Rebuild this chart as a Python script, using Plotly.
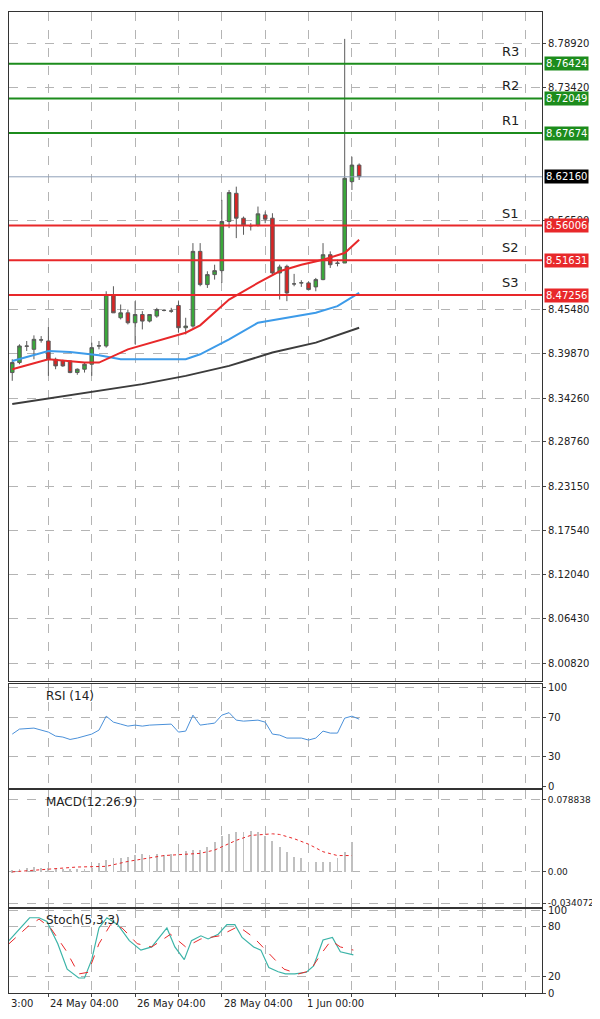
import plotly.graph_objs as go
from plotly.subplots import make_subplots

# H4 candles, index 0..48
opens = [8.3748, 8.3874, 8.4083, 8.4041, 8.4158, 8.4146, 8.3915, 8.3894, 8.3894, 8.3748,
         8.3790, 8.3853, 8.4083, 8.4083, 8.4731, 8.4439, 8.4501, 8.4376, 8.4480, 8.4397,
         8.4460, 8.4531, 8.4522, 8.4594, 8.4313, 8.4334, 8.5276, 8.4857, 8.4983, 8.5033,
         8.5652, 8.6008, 8.5694, 8.5598, 8.5610, 8.5736, 8.5694, 8.5004, 8.5087, 8.4866,
         8.4878, 8.4878, 8.4828, 8.4920, 8.5234, 8.5129, 8.5129, 8.6155, 8.6364]
highs = [8.3915, 8.4104, 8.4146, 8.4217, 8.4208, 8.4322, 8.3936, 8.3910, 8.3900, 8.3800,
         8.3874, 8.4125, 8.4146, 8.4773, 8.4836, 8.4606, 8.4543, 8.4648, 8.4522, 8.4480,
         8.4564, 8.4545, 8.4564, 8.4648, 8.4439, 8.5380, 8.5380, 8.5025, 8.5108, 8.5925,
         8.6050, 8.6092, 8.5715, 8.5631, 8.5841, 8.5778, 8.5757, 8.5108, 8.5108, 8.4992,
         8.4912, 8.4899, 8.4941, 8.5380, 8.5276, 8.5171, 8.7955, 8.6469, 8.6385]
lows = [8.3644, 8.3853, 8.4020, 8.3915, 8.4125, 8.3706, 8.3790, 8.3820, 8.3740, 8.3720,
        8.3748, 8.3706, 8.4041, 8.4062, 8.4499, 8.4418, 8.4355, 8.4104, 8.4292, 8.4380,
        8.4439, 8.4520, 8.4501, 8.4250, 8.4229, 8.4313, 8.4836, 8.4815, 8.4920, 8.4878,
        8.5569, 8.5443, 8.5485, 8.5539, 8.5590, 8.5631, 8.4983, 8.4669, 8.4648, 8.4836,
        8.4828, 8.4794, 8.4773, 8.4912, 8.5067, 8.5087, 8.5129, 8.6050, 8.6176]
closes = [8.3874, 8.4083, 8.4080, 8.4167, 8.4160, 8.3915, 8.3832, 8.3832, 8.3748, 8.3790,
          8.3853, 8.4062, 8.4085, 8.4731, 8.4501, 8.4501, 8.4376, 8.4480, 8.4397, 8.4480,
          8.4543, 8.4533, 8.4525, 8.4313, 8.4334, 8.5276, 8.4857, 8.4983, 8.5033, 8.5652,
          8.6017, 8.5694, 8.5610, 8.5600, 8.5749, 8.5682, 8.5004, 8.5079, 8.4752, 8.4866,
          8.4880, 8.4794, 8.4920, 8.5234, 8.5108, 8.5125, 8.6197, 8.6364, 8.6217]

ma_red_x = [0, 5, 10, 12, 16, 24, 26, 30, 34, 37, 40, 43, 46, 48]
ma_red = [8.3790, 8.3915, 8.3874, 8.3874, 8.4041, 8.4250, 8.4343, 8.4669, 8.4878, 8.5025,
          8.5108, 8.5171, 8.5255, 8.5422]
ma_blue_x = [0, 5, 8, 12, 15, 24, 26, 30, 34, 38, 42, 45, 48]
ma_blue = [8.3894, 8.4020, 8.4008, 8.3966, 8.3915, 8.3915, 8.3978, 8.4167, 8.4376, 8.4439,
           8.4501, 8.4585, 8.4752]
ma_gray_x = [0, 6, 12, 18, 24, 30, 36, 42, 48]
ma_gray = [8.3351, 8.3434, 8.3518, 8.3602, 8.3706, 8.3832, 8.4000, 8.4125, 8.4313]

levels = {"R3": 8.76424, "R2": 8.72049, "R1": 8.67674,
          "S1": 8.56006, "S2": 8.51631, "S3": 8.47256}
last_price = 8.62160
price_ticks = [8.00820, 8.06430, 8.12040, 8.17540, 8.23150, 8.28760, 8.34260,
               8.39870, 8.45480, 8.56590, 8.73420, 8.78920]

rsi_x = [0, 1, 3, 5, 6, 7, 8, 9, 11, 12, 13, 14, 15, 16, 17, 18, 19, 22, 23, 24, 25,
         26, 27, 28, 29, 30, 31, 32, 34, 35, 36, 37, 38, 40, 41, 42, 43, 44, 45, 46, 47, 48]
rsi = [53, 58, 59, 55, 51, 50, 47.6, 49, 53, 57, 71, 65, 63, 61, 62, 61, 62, 63, 55, 56, 72,
       62, 63, 64, 72, 74.5, 67, 66, 67, 65, 53, 52, 49, 49, 47, 49, 56, 54, 54, 69, 71, 68]

macd_hist = [0.002, 0.003, 0.004, 0.005, 0.004, 0.004, 0.003, 0.003, 0.003, 0.003, 0.003,
             0.004, 0.0096, 0.0131, 0.0156, 0.0156, 0.0167, 0.0185, 0.0202, 0.0185, 0.0202,
             0.0185, 0.0202, 0.0220, 0.0227, 0.0238, 0.0238, 0.0273, 0.0327, 0.0398, 0.0415,
             0.0433, 0.0440, 0.0451, 0.0433, 0.0398, 0.0344, 0.0273, 0.0220, 0.0167, 0.0149,
             0.0114, 0.0114, 0.0114, 0.0114, 0.0149, 0.0220, 0.0327]
sig_x = [0, 4, 9, 13, 16, 21, 26, 28, 31, 33, 36, 37, 39, 41, 43, 45, 47]
sig = [0, 0.0025, 0.0053, 0.006, 0.0114, 0.0178, 0.0202, 0.0238, 0.0344, 0.0398, 0.0415,
       0.0408, 0.0362, 0.0302, 0.0220, 0.0178, 0.0178]

st_x = [-0.45, 1.1, 2.4, 3.7, 4.8, 6.3, 7.6, 9.2, 10, 11, 12, 13.1, 14.6, 16.2, 17.8, 19.3,
        21.4, 22.5, 23.8, 24.8, 26.1, 27.1, 28.5, 29.7, 30.8, 31.8, 33.4, 34.4, 35.5, 36.8,
        37.8, 39.1, 40.7, 41.7, 43, 44.3, 45.4, 47.2]
st_k = [63.5, 78.8, 91.2, 91.2, 86.6, 59.7, 28.9, 18.2, 18.2, 40.4, 78.8, 91.2, 82.8, 63.5,
        52, 55.8, 78.8, 55.8, 40.4, 63.5, 69.3, 65.5, 71.2, 82.8, 82.8, 67.3, 55.8, 52, 30.8,
        25.8, 23.1, 23.1, 25.1, 32.7, 64.3, 67.3, 50, 46.2]
sd_x = [-0.45, 2.2, 3.7, 5.3, 7.4, 9.2, 10.5, 12, 13.6, 15.2, 17.3, 19.3, 21.9, 24, 26.1,
        28.7, 31.3, 33.4, 35.5, 37.6, 39.6, 41.2, 42.8, 44.1, 45.4, 47.2]
st_d = [59.7, 80.8, 89.6, 78.8, 52, 23.1, 25.1, 59.7, 82.8, 78.8, 59.7, 55.8, 71.2, 55.8,
        65.5, 69.3, 80.8, 67.3, 48.1, 28.9, 23.1, 27, 48.1, 63.5, 55.8, 52]

x_ticks = [5, 11, 17, 23, 29, 35, 41, 47, 53, 59, 65, 71]
date_pos = [5, 17, 29, 40.5]
date_labels = ["24 May 04:00", "26 May 04:00", "28 May 04:00", "1 Jun 00:00"]

FONT = "DejaVu Sans"
GRID = "#b4b4b4"

fig = make_subplots(rows=4, cols=1, shared_xaxes=True)
idx = list(range(len(opens)))

fig.add_trace(go.Candlestick(
    x=idx, open=opens, high=highs, low=lows, close=closes,
    increasing=dict(fillcolor="#3aa83a", line=dict(color="#5a5a5a", width=1)),
    decreasing=dict(fillcolor="#d92424", line=dict(color="#5a5a5a", width=1)),
    whiskerwidth=0, showlegend=False), row=1, col=1)

fig.add_trace(go.Scatter(x=ma_gray_x, y=ma_gray, mode="lines", line=dict(color="#3c3c3c", width=2),
                         showlegend=False), row=1, col=1)
fig.add_trace(go.Scatter(x=ma_blue_x, y=ma_blue, mode="lines", line=dict(color="#3d9be9", width=2),
                         showlegend=False), row=1, col=1)
fig.add_trace(go.Scatter(x=ma_red_x, y=ma_red, mode="lines", line=dict(color="#e8282a", width=2),
                         showlegend=False), row=1, col=1)

xr = [-0.45, 73.3]
fig.add_hline(y=last_price, line=dict(color="#8fa0b8", width=1), row=1, col=1)
for name, val in levels.items():
    col = "#1c8c1c" if name.startswith("R") else "#e8282a"
    fig.add_hline(y=val, line=dict(color=col, width=2), row=1, col=1)
    fig.add_annotation(x=69, y=val, xref="x", yref="y", text=name, showarrow=False,
                       yanchor="bottom", yshift=3, font=dict(family=FONT, size=13, color="#222"))
    fig.add_annotation(x=1.004, y=val, xref="paper", yref="y", text=f"{val:.5f}",
                       showarrow=False, xanchor="left", bgcolor=col,
                       font=dict(family=FONT, size=10, color="white"), borderpad=1)
fig.add_annotation(x=1.004, y=last_price, xref="paper", yref="y", text=f"{last_price:.5f}",
                   showarrow=False, xanchor="left", bgcolor="black",
                   font=dict(family=FONT, size=10, color="white"), borderpad=1)

# RSI
fig.add_trace(go.Scatter(x=rsi_x, y=rsi, mode="lines", line=dict(color="#4a90d9", width=1),
                         showlegend=False), row=2, col=1)
# MACD
fig.add_trace(go.Bar(x=idx[:len(macd_hist)], y=macd_hist, width=0.12, marker_color="#c0c0c0",
                     marker_line_width=0, showlegend=False), row=3, col=1)
fig.add_trace(go.Scatter(x=sig_x, y=sig, mode="lines", line=dict(color="#e8282a", width=1, dash="dot"),
                         showlegend=False), row=3, col=1)
# Stochastic
fig.add_trace(go.Scatter(x=st_x, y=st_k, mode="lines", line=dict(color="#3cb4a8", width=1.2),
                         showlegend=False), row=4, col=1)
fig.add_trace(go.Scatter(x=sd_x, y=st_d, mode="lines", line=dict(color="#e8282a", width=1, dash="dash"),
                         showlegend=False), row=4, col=1)

for lbl, yref in [("RSI (14)", "y2 domain"), ("MACD(12.26.9)", "y3 domain"),
                  ("Stoch(5,3,3)", "y4 domain")]:
    fig.add_annotation(x=0.065, y=0.97, xref="paper", yref=yref, text=lbl, showarrow=False,
                       xanchor="left", yanchor="top", font=dict(family=FONT, size=12, color="#222"))

for pos, lbl in zip(date_pos, date_labels):
    fig.add_annotation(x=pos, y=-0.003, xref="x4", yref="paper", text=lbl, showarrow=False,
                       xanchor="left", yanchor="top", font=dict(family=FONT, size=10, color="#222"))
fig.add_annotation(x=-0.45, y=-0.003, xref="x4", yref="paper", text="3:00", showarrow=False,
                   xanchor="left", yanchor="top", font=dict(family=FONT, size=10, color="#222"))

axis_common = dict(showline=True, linecolor="#333", linewidth=1, mirror=True,
                   gridcolor=GRID, griddash="dash", gridwidth=1, zeroline=False)
for i in range(1, 5):
    fig.update_xaxes(range=xr, tickvals=x_ticks, showticklabels=False,
                     rangeslider_visible=False, ticks="outside" if i == 4 else "",
                     ticklen=3, row=i, col=1, **axis_common)
fig.update_yaxes(side="right", tickfont=dict(family=FONT, size=10, color="#222"), ticks="outside",
                 ticklen=3, **axis_common)
fig.update_yaxes(range=[7.9856, 8.8294], tickvals=price_ticks,
                 ticktext=[f"{v:.5f}" for v in price_ticks], row=1, col=1)
fig.update_yaxes(range=[-1, 103], tickvals=[0, 30, 70, 100], row=2, col=1)
fig.update_yaxes(range=[-0.0384, 0.0895], tickvals=[-0.034072, 0.0, 0.078838],
                 ticktext=["-0.034072", "0.00", "0.078838"], tickfont=dict(size=9), row=3, col=1)
fig.update_yaxes(range=[0, 102], tickvals=[0, 20, 80, 100], row=4, col=1)

fig.update_layout(
    width=592, height=1011, margin=dict(l=0, r=58, t=0, b=26),
    paper_bgcolor="white", plot_bgcolor="white", bargap=0,
    yaxis=dict(domain=[0.3178, 1.0]),
    yaxis2=dict(domain=[0.2091, 0.3147]),
    yaxis3=dict(domain=[0.0876, 0.2071]),
    yaxis4=dict(domain=[0.0, 0.0858]),
)

fig.write_html("out.html")
